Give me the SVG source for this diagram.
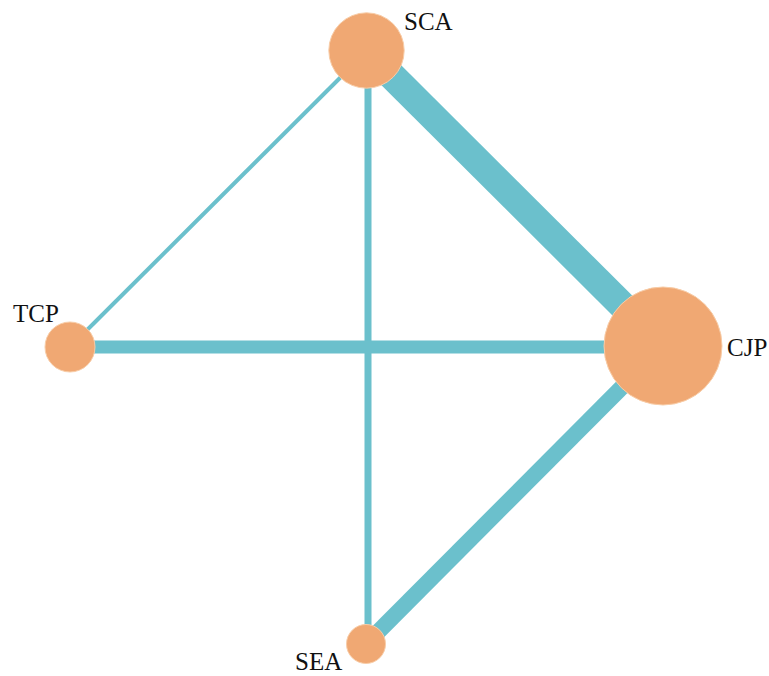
<svg xmlns="http://www.w3.org/2000/svg" width="769" height="676" viewBox="0 0 769 676">
<style>
.e{stroke:#6BC0CC;fill:none;stroke-linecap:butt}
.n{fill:#F0A873;stroke:#F8CDA8;stroke-width:1}
.t{font-family:"Liberation Serif","Times New Roman",serif;font-size:25px;fill:#111}
</style>
<rect width="769" height="676" fill="#fff"/>
<g id="edges">
<line class="e" x1="367" y1="51" x2="663" y2="346" stroke-width="28"/>
<line class="e" x1="367" y1="51" x2="70" y2="347" stroke-width="4"/>
<line class="e" x1="368" y1="51" x2="368" y2="644" stroke-width="7"/>
<line class="e" x1="70" y1="347" x2="663" y2="347" stroke-width="13"/>
<line class="e" x1="663" y1="346" x2="366" y2="644" stroke-width="16"/>
</g>
<g id="SCA"><circle class="n" cx="366.5" cy="50.5" r="37.7"/><text class="t" x="404" y="30">SCA</text></g>
<g id="TCP"><circle class="n" cx="70" cy="347" r="25"/><text class="t" x="13" y="322">TCP</text></g>
<g id="CJP"><circle class="n" cx="663" cy="346" r="59"/><text class="t" x="727" y="356">CJP</text></g>
<g id="SEA"><circle class="n" cx="366" cy="644" r="19.5"/><text class="t" x="295" y="670">SEA</text></g>
</svg>
